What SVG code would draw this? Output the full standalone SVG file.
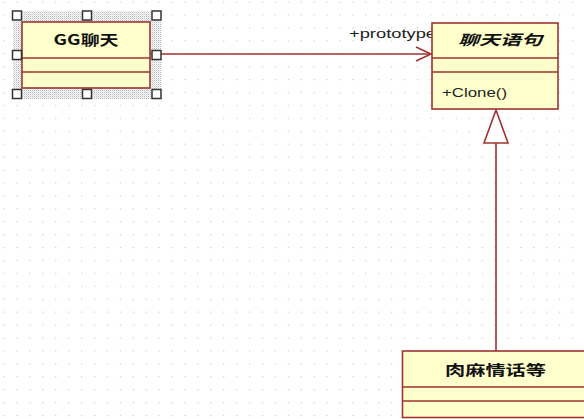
<svg xmlns="http://www.w3.org/2000/svg" width="584" height="419" viewBox="0 0 584 419">
<defs>
  <pattern id="grid" x="3.5" y="1.5" width="12.92" height="12.92" patternUnits="userSpaceOnUse">
    <rect x="0" y="0" width="1.2" height="1.2" fill="#c8c8c8"/>
  </pattern>
  <pattern id="hatch" x="0" y="0" width="2" height="2" patternUnits="userSpaceOnUse">
    <rect x="0" y="0" width="1" height="1" fill="#b8b8b8"/>
    <rect x="1" y="1" width="1" height="1" fill="#e0e0e0"/>
  </pattern>
  <marker id="open" markerWidth="18" markerHeight="16" refX="16" refY="8" orient="auto" markerUnits="userSpaceOnUse">
    <path d="M1,1 L16,8 L1,15" fill="none" stroke="#a03232" stroke-width="1.6"/>
  </marker>
</defs>
<style>
  .box { fill: #ffffcc; stroke: #a03232; stroke-width: 1.6; }
  .sep { stroke: #a03232; stroke-width: 1.6; fill: none; }
  .line { stroke: #a03232; stroke-width: 1.6; fill: none; }
  .title { font-family: "Noto Sans CJK SC", "Liberation Sans", sans-serif; font-weight: bold; font-size: 14px; fill: #111; }
  .txt { font-family: "Liberation Sans", "Noto Sans CJK SC", sans-serif; font-size: 13px; fill: #222; }
  .handle { fill: #ffffff; stroke: #333; stroke-width: 1.5; }
</style>
<rect width="584" height="419" fill="#ffffff"/>
<rect width="584" height="419" fill="url(#grid)"/>

<g id="connectors">
  <line class="line" x1="150" y1="54" x2="431" y2="54" marker-end="url(#open)"/>
  <line class="line" x1="496" y1="143" x2="496" y2="351"/>
  <polygon points="496,110 484,143 508,143" fill="#ffffff" stroke="#a03232" stroke-width="1.6"/>
</g>

<g id="node-gg">
  <rect x="13" y="11" width="148" height="88" fill="url(#hatch)"/>
  <rect class="box" x="22" y="22" width="128" height="66"/>
  <line class="sep" x1="22" y1="58" x2="150" y2="58"/>
  <line class="sep" x1="22" y1="72" x2="150" y2="72"/>
  <text class="title" x="86" y="45" text-anchor="middle" textLength="65" lengthAdjust="spacingAndGlyphs">GG聊天</text>
  <rect class="handle" x="12.5" y="11" width="9" height="9"/>
  <rect class="handle" x="82.5" y="11" width="9" height="9"/>
  <rect class="handle" x="152" y="11" width="9" height="9"/>
  <rect class="handle" x="12.5" y="50.5" width="9" height="9"/>
  <rect class="handle" x="152" y="50.5" width="9" height="9"/>
  <rect class="handle" x="12.5" y="89.5" width="9" height="9"/>
  <rect class="handle" x="82.5" y="89.5" width="9" height="9"/>
  <rect class="handle" x="152" y="89.5" width="9" height="9"/>
</g>

<text class="txt" x="349" y="38" textLength="87" lengthAdjust="spacingAndGlyphs">+prototype</text>

<g id="node-chat">
  <rect class="box" x="432" y="23" width="126" height="86"/>
  <line class="sep" x1="432" y1="58" x2="558" y2="58"/>
  <line class="sep" x1="432" y1="72" x2="558" y2="72"/>
  <text class="title" x="500" y="45" text-anchor="middle" font-style="italic" transform="skewX(0)" textLength="84" lengthAdjust="spacingAndGlyphs">聊天语句</text>
  <text class="txt" x="442" y="97" textLength="65" lengthAdjust="spacingAndGlyphs">+Clone()</text>
</g>

<g id="node-roumahuahua">
  <rect class="box" x="402.5" y="351" width="190" height="66.5"/>
  <line class="sep" x1="402.5" y1="387" x2="584" y2="387"/>
  <line class="sep" x1="402.5" y1="401" x2="584" y2="401"/>
  <text class="title" x="445" y="375" textLength="101" lengthAdjust="spacingAndGlyphs">肉麻情话等</text>
</g>
</svg>
